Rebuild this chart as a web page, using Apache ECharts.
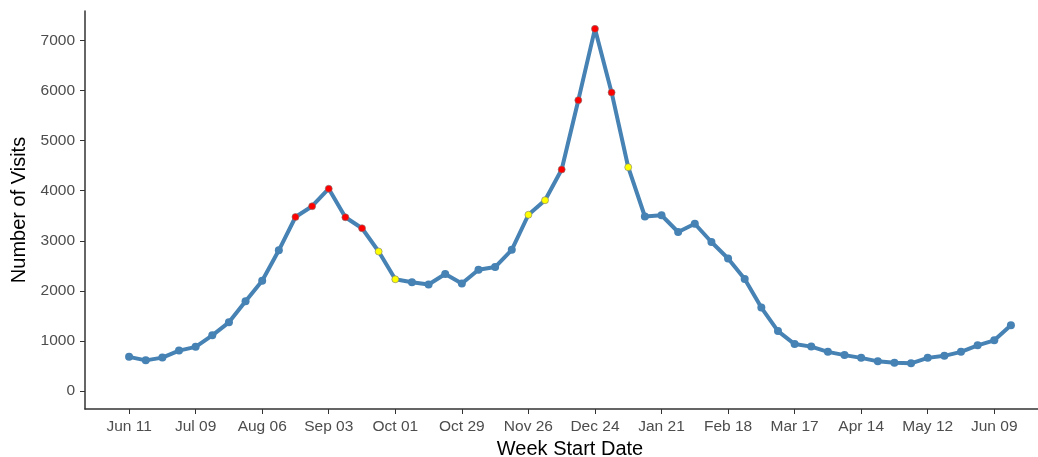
<!DOCTYPE html>
<html>
<head>
<meta charset="utf-8">
<script src="https://cdn.jsdelivr.net/npm/echarts@6/dist/echarts.min.js"></script>
<style>
  html, body { margin: 0; padding: 0; background: #fff; }
  #chart { width: 1038px; height: 457px; }
</style>
</head>
<body>
<div id="chart"></div>
<script>
// weekly visits, Jun 11 -> Jun 16 of the following year
const weekIndex = [];
for (let i = 0; i < 54; i++) weekIndex.push(i);

const visits = [
  680, 610, 665, 805, 880, 1110, 1370, 1790, 2200, 2810,
  3475, 3690, 4040, 3470, 3250, 2785, 2230, 2170, 2125, 2335,
  2145, 2420, 2475, 2820, 3520, 3810, 4425, 5810, 7235, 5965,
  4470, 3485, 3510, 3175, 3340, 2975, 2645, 2235, 1665, 1195,
  935, 885, 780, 715, 660, 590, 560, 550, 660, 700,
  780, 910, 1010, 1310
];

// point flag: 0 = normal, 1 = warning (yellow), 2 = alert (red)
const flags = [
  0, 0, 0, 0, 0, 0, 0, 0, 0, 0,
  2, 2, 2, 2, 2, 1, 1, 0, 0, 0,
  0, 0, 0, 0, 1, 1, 2, 2, 2, 2,
  1, 0, 0, 0, 0, 0, 0, 0, 0, 0,
  0, 0, 0, 0, 0, 0, 0, 0, 0, 0,
  0, 0, 0, 0
];

const tickWeeks = [0, 4, 8, 12, 16, 20, 24, 28, 32, 36, 40, 44, 48, 52];
const tickLabels = ['Jun 11', 'Jul 09', 'Aug 06', 'Sep 03', 'Oct 01', 'Oct 29', 'Nov 26',
  'Dec 24', 'Jan 21', 'Feb 18', 'Mar 17', 'Apr 14', 'May 12', 'Jun 09'];
const yTicks = [0, 1000, 2000, 3000, 4000, 5000, 6000, 7000];

const flagColor = ['#4682B4', '#FFFF00', '#FF0000'];

const chart = echarts.init(document.getElementById('chart'));

const pointData = weekIndex.map((w, i) => {
  const f = flags[i];
  return {
    value: [w, visits[i]],
    symbolSize: f === 0 ? 8 : 7,
    itemStyle: {
      color: flagColor[f],
      borderColor: f === 0 ? '#4682B4' : '#7a7a7a',
      borderWidth: f === 0 ? 0 : 0.6
    }
  };
});

const axisText = { fontFamily: 'Liberation Sans, Arial', fontSize: 15.5, color: '#4d4d4d' };
const titleText = { fontFamily: 'Liberation Sans, Arial', fontSize: 20, color: '#000' };

chart.setOption({
  animation: false,
  backgroundColor: '#fff',
  grid: { left: 85, top: 11, width: 970, height: 398, containLabel: false, outerBoundsMode: 'none' },
  xAxis: {
    type: 'value',
    min: -2.65,
    max: 55.65,
    name: 'Week Start Date',
    nameLocation: 'middle',
    nameGap: 29,
    nameTextStyle: titleText,
    axisLine: { onZero: false, lineStyle: { color: '#333', width: 1.5 } },
    axisTick: { customValues: tickWeeks, length: 5, lineStyle: { color: '#333' } },
    axisLabel: Object.assign({
      customValues: tickWeeks,
      margin: 10,
      formatter: (v) => tickLabels[tickWeeks.indexOf(Math.round(v))] || ''
    }, axisText),
    splitLine: { show: false }
  },
  yAxis: {
    type: 'value',
    min: -362,
    max: 7592,
    name: 'Number of Visits',
    nameLocation: 'middle',
    nameGap: 56,
    nameTextStyle: titleText,
    axisLine: { show: true, onZero: false, lineStyle: { color: '#333', width: 1.5 } },
    axisTick: { show: true, customValues: yTicks, length: 5, lineStyle: { color: '#333' } },
    axisLabel: Object.assign({
      customValues: yTicks,
      margin: 10,
      formatter: (v) => String(Math.round(v))
    }, axisText),
    splitLine: { show: false }
  },
  series: [
    {
      type: 'line',
      data: pointData,
      symbol: 'circle',
      showAllSymbol: true,
      lineStyle: { color: '#4682B4', width: 4 },
      z: 3
    }
  ]
});
</script>
</body>
</html>
